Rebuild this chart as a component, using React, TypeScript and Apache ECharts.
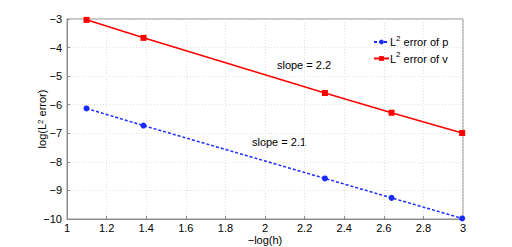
import React, { useEffect, useRef } from "react";
import * as echarts from "echarts";

const xValues = [1.0986, 1.3863, 2.3026, 2.6391, 2.9957];
const errP = [-6.13, -6.73, -8.58, -9.26, -9.98];
const errV = [-3.03, -3.66, -5.59, -6.28, -6.99];
const seriesNames = ["L{s|2} error of p", "L{s|2} error of v"];
const slopeLabels = ["slope = 2.2", "slope = 2.1"];

const font = "'Liberation Sans', Arial, sans-serif";
const fmt = (v: number) => String(v).replace("-", "\u2212");

export default function App() {
  const ref = useRef<HTMLDivElement>(null);
  useEffect(() => {
    if (!ref.current) return;
    const chart = echarts.init(ref.current, null, { renderer: "svg" });
    const axisCommon = {
      axisLine: { show: true, lineStyle: { color: "#8c8c8c", width: 1 } },
      axisTick: { show: true, inside: true, length: 3, lineStyle: { color: "#8c8c8c" } },
      splitLine: { show: true, lineStyle: { color: "#e0e0e0", type: [1, 2] } },
      axisLabel: { color: "#000", fontSize: 11, lineHeight: 11, fontFamily: font, formatter: fmt },
      nameTextStyle: { color: "#000", fontSize: 11, lineHeight: 11, fontFamily: font },
    };
    chart.setOption({
      animation: false,
      backgroundColor: "#fff",
      grid: {
        left: 67, right: 49, top: 19, bottom: 28,
        containLabel: false, outerBoundsMode: "none",
        show: true, borderColor: "#8c8c8c", borderWidth: 1,
      },
      xAxis: {
        type: "value",
        min: 1,
        max: 3,
        interval: 0.2,
        name: "\u2212log(h)",
        nameLocation: "middle",
        nameGap: 15,
        nameMoveOverlap: false,
        ...axisCommon,
        axisLabel: { ...axisCommon.axisLabel, margin: 3, formatter: (v: number) => String(Math.round(v * 10) / 10) },
      },
      yAxis: {
        type: "value",
        min: -10,
        max: -3,
        interval: 1,
        name: "log(L{s|2} error)",
        nameLocation: "middle",
        nameGap: 20,
        nameMoveOverlap: false,
        ...axisCommon,
        nameTextStyle: { ...axisCommon.nameTextStyle, rich: { s: { fontSize: 8, verticalAlign: "top", padding: [0, 0, 8, 0], fontFamily: font } } },
        axisLabel: { ...axisCommon.axisLabel, margin: 5 },
      },
      legend: {
        orient: "vertical",
        left: 368,
        top: 29,
        itemGap: 3,
        itemWidth: 15,
        itemHeight: 6,
        textStyle: {
          fontSize: 11,
          fontFamily: font,
          color: "#000",
          padding: [0, 0, 0, -4],
          rich: { s: { fontSize: 8, verticalAlign: "top", padding: [0, 0, 8, 0], fontFamily: font } },
        },
        data: seriesNames,
      },
      series: [
        {
          name: seriesNames[0],
          type: "line",
          data: xValues.map((x, i) => [x, errP[i]]),
          symbol: "circle",
          symbolSize: 6,
          lineStyle: { color: "#1a2bff", width: 1.5, type: [3, 2] },
          itemStyle: { color: "#1a2bff" },
        },
        {
          name: seriesNames[1],
          type: "line",
          data: xValues.map((x, i) => [x, errV[i]]),
          symbol: "rect",
          symbolSize: 6,
          lineStyle: { color: "#ff0000", width: 1.6 },
          itemStyle: { color: "#ff0000" },
        },
      ],
      graphic: [
        { type: "text", x: 304, y: 65, style: { text: slopeLabels[0], font: `11px ${font}`, fill: "#000", align: "center", verticalAlign: "middle" } },
        { type: "text", x: 279, y: 142, style: { text: slopeLabels[1], font: `11px ${font}`, fill: "#000", align: "center", verticalAlign: "middle" } },
      ],
    });
    return () => chart.dispose();
  }, []);
  return <div ref={ref} style={{ width: 512, height: 247, position: "absolute", left: 0, top: 0 }} />;
}
